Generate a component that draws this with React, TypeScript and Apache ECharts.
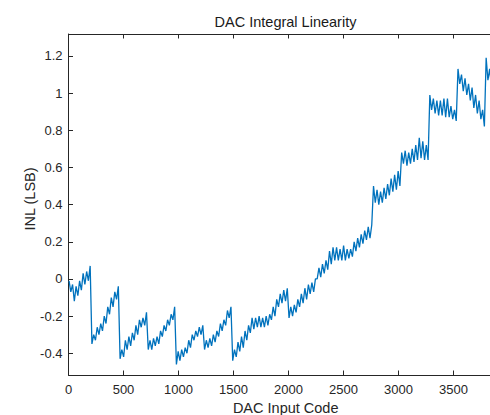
import React, { useEffect, useRef } from "react";
import * as echarts from "echarts";

// DAC input code of the first sample and spacing between samples
const CODE_START = 5;
const CODE_STEP = 16;

// INL (LSB) values, one array per 256-code segment
const seg00 = [-0.01, -0.07, -0.03, -0.12, -0.04, -0.09, -0.01, -0.06, 0.03, -0.03, 0.04, -0.01, 0.07];
const seg01 = [-0.35, -0.30, -0.33, -0.26, -0.30, -0.24, -0.28, -0.20, -0.24, -0.15, -0.19, -0.10, -0.15, -0.07, -0.11, -0.04];
const seg02 = [-0.43, -0.38, -0.42, -0.33, -0.38, -0.31, -0.36, -0.29, -0.33, -0.25, -0.30, -0.22, -0.26, -0.21, -0.25, -0.18];
const seg03 = [-0.38, -0.33, -0.38, -0.32, -0.36, -0.31, -0.35, -0.28, -0.31, -0.25, -0.28, -0.22, -0.25, -0.19, -0.22, -0.15];
const seg04 = [-0.46, -0.39, -0.44, -0.38, -0.42, -0.37, -0.40, -0.33, -0.37, -0.30, -0.33, -0.28, -0.31, -0.26, -0.30, -0.25];
const seg05 = [-0.38, -0.33, -0.37, -0.32, -0.36, -0.30, -0.34, -0.28, -0.31, -0.24, -0.28, -0.22, -0.25, -0.17, -0.21, -0.15];
const seg06 = [-0.44, -0.38, -0.42, -0.34, -0.39, -0.31, -0.37, -0.28, -0.33, -0.25, -0.29, -0.21, -0.27, -0.21, -0.26, -0.20];
const seg07 = [-0.26, -0.21, -0.26, -0.20, -0.25, -0.19, -0.22, -0.15, -0.20, -0.11, -0.15, -0.08, -0.13, -0.06, -0.12, -0.05];
const seg08 = [-0.21, -0.15, -0.20, -0.14, -0.18, -0.11, -0.15, -0.08, -0.13, -0.05, -0.11, -0.03, -0.08, -0.02, -0.07, 0.0];
const seg09 = [0.0, 0.06, 0.01, 0.08, 0.03, 0.10, 0.05, 0.15, 0.08, 0.17, 0.10, 0.17, 0.10, 0.16, 0.10, 0.18];
const seg10 = [0.10, 0.16, 0.11, 0.16, 0.12, 0.20, 0.15, 0.22, 0.17, 0.24, 0.19, 0.26, 0.21, 0.28, 0.22, 0.29];
const seg11 = [0.50, 0.41, 0.48, 0.40, 0.47, 0.41, 0.49, 0.43, 0.51, 0.45, 0.54, 0.47, 0.56, 0.48, 0.58, 0.50];
const seg12 = [0.68, 0.62, 0.69, 0.61, 0.68, 0.62, 0.70, 0.63, 0.72, 0.64, 0.76, 0.65, 0.74, 0.64, 0.72, 0.64];
const seg13 = [0.99, 0.91, 0.97, 0.89, 0.96, 0.88, 0.96, 0.88, 0.97, 0.87, 0.97, 0.87, 0.93, 0.86, 0.91, 0.85];
const seg14 = [1.13, 1.05, 1.10, 1.01, 1.08, 0.99, 1.05, 0.96, 1.03, 0.92, 0.99, 0.89, 0.96, 0.86, 0.91, 0.82];
const seg15 = [1.19, 1.07, 1.13, 1.03, 1.08, 1.00];

const inlValues = [
  ...seg00, ...seg01, ...seg02, ...seg03, ...seg04, ...seg05, ...seg06, ...seg07,
  ...seg08, ...seg09, ...seg10, ...seg11, ...seg12, ...seg13, ...seg14, ...seg15,
];

const yTickValues = [-0.4, -0.2, 0, 0.2, 0.4, 0.6, 0.8, 1, 1.2];

// visible part of the axis (the original figure is cropped at the right)
const X_MIN = 0;
const X_MAX = 3832;
const X_INTERVAL = 500;
const Y_MIN = -0.517;
const Y_MAX = 1.318;

const TITLE = "DAC Integral Linearity";
const X_LABEL = "DAC Input Code";
const Y_LABEL = "INL (LSB)";

const AXIS_COLOR = "#262626";
const FONT = "Liberation Sans, Arial, Helvetica, sans-serif";

export default function App() {
  const ref = useRef<HTMLDivElement>(null);

  useEffect(() => {
    if (!ref.current) return;
    const chart = echarts.init(ref.current, undefined, { renderer: "svg" });
    const data = inlValues.map((v, i) => [CODE_START + i * CODE_STEP, v]);

    const tickStyle = { inside: true, length: 4.5, lineStyle: { color: AXIS_COLOR, width: 1 } };

    chart.setOption({
      animation: false,
      backgroundColor: "#ffffff",
      textStyle: { fontFamily: FONT },
      grid: { left: 68.5, top: 34, right: 0, bottom: 40, containLabel: false },
      xAxis: [
        {
          type: "value",
          position: "bottom",
          min: X_MIN,
          max: X_MAX,
          interval: X_INTERVAL,
          axisLine: { show: true, onZero: false, lineStyle: { color: AXIS_COLOR, width: 1 } },
          axisTick: tickStyle,
          axisLabel: {
            color: AXIS_COLOR,
            fontSize: 13,
            margin: 8,
            fontFamily: FONT,
            showMaxLabel: false,
            formatter: (v: number) => String(v),
          },
          splitLine: { show: false },
        },
        {
          type: "value",
          position: "top",
          min: X_MIN,
          max: X_MAX,
          interval: X_INTERVAL,
          axisLine: { show: true, onZero: false, lineStyle: { color: AXIS_COLOR, width: 1 } },
          axisTick: tickStyle,
          axisLabel: { show: false },
          splitLine: { show: false },
        },
      ],
      yAxis: {
        type: "value",
        min: Y_MIN,
        max: Y_MAX,
        axisLine: { show: true, onZero: false, lineStyle: { color: AXIS_COLOR, width: 1 } },
        axisTick: { ...tickStyle, customValues: yTickValues },
        axisLabel: {
          customValues: yTickValues,
          color: AXIS_COLOR,
          fontSize: 13,
          margin: 6,
          fontFamily: FONT,
          formatter: (v: number) => String(Math.round(v * 10) / 10),
        },
        splitLine: { show: false },
      },
      graphic: [
        {
          type: "text",
          x: 285.5,
          y: 21.5,
          style: {
            text: TITLE,
            fill: "#1a1a1a",
            font: `14.5px ${FONT}`,
            align: "center",
            verticalAlign: "middle",
          },
        },
        {
          type: "text",
          x: 285.7,
          y: 408,
          style: {
            text: X_LABEL,
            fill: AXIS_COLOR,
            font: `14.5px ${FONT}`,
            align: "center",
            verticalAlign: "middle",
          },
        },
        {
          type: "text",
          x: 29.5,
          y: 199,
          rotation: Math.PI / 2,
          style: {
            text: Y_LABEL,
            fill: AXIS_COLOR,
            font: `14.5px ${FONT}`,
            align: "center",
            verticalAlign: "middle",
          },
        },
      ],
      series: [
        {
          type: "line",
          xAxisIndex: 0,
          data,
          showSymbol: false,
          symbol: "none",
          lineStyle: { color: "#0072BD", width: 1.3 },
          clip: true,
        },
      ],
    });

    return () => chart.dispose();
  }, []);

  return (
    <div
      ref={ref}
      style={{ position: "absolute", left: 0, top: 0, width: 490, height: 415, background: "#fff" }}
    />
  );
}
